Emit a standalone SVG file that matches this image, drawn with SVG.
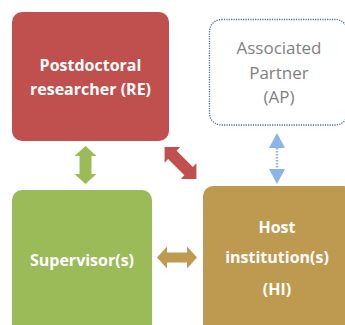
<svg xmlns="http://www.w3.org/2000/svg" width="345" height="325" viewBox="0 0 345 325">
  <style>
    .lbl { font-family: "Open Sans", "Liberation Sans", sans-serif; font-weight: bold; font-size: 16px; fill: #ffffff; text-anchor: middle; }
    .ap { font-family: "Open Sans", "Liberation Sans", sans-serif; font-size: 17px; fill: #7f7f7f; text-anchor: middle; }
  </style>
  <rect width="345" height="325" fill="#ffffff"/>
  <g id="connectors">
    <polygon fill="#9bbb59" points="85.5,146 96.5,156 91.5,156 91.5,174 96.5,174 85.5,184 74.5,174 79.5,174 79.5,156 74.5,156"/>
    <polygon fill="#be9a50" points="157,257.5 167,246.5 167,252.5 187,252.5 187,246.5 197,257.5 187,268.5 187,262.5 167,262.5 167,268.5"/>
    <polygon fill="#c0504d" transform="translate(180.5,163) rotate(45)" points="-22.5,0 -11.5,-11 -11.5,-6 11.5,-6 11.5,-11 22.5,0 11.5,11 11.5,6 -11.5,6 -11.5,11"/>
    <g fill="#8eb4e3">
      <polygon points="277,133 285,148 269,148"/>
      <polygon points="277,184 285,169 269,169"/>
      <line x1="277" y1="148" x2="277" y2="169" stroke="#8eb4e3" stroke-width="2.5" stroke-dasharray="1.5 1.5"/>
    </g>
  </g>
  <g id="re">
    <rect x="12" y="12" width="157" height="129" rx="10" fill="#c0504d"/>
    <text class="lbl" x="90.5" y="71">Postdoctoral</text>
    <text class="lbl" x="90.5" y="95">researcher (RE)</text>
  </g>
  <g id="ap">
    <rect x="209.5" y="19.5" width="138" height="105.5" rx="12" fill="none" stroke="#4a6a9c" stroke-width="1.3" stroke-dasharray="1.2 1.2"/>
    <text class="ap" x="279" y="54">Associated</text>
    <text class="ap" x="279" y="79">Partner</text>
    <text class="ap" x="279" y="103">(AP)</text>
  </g>
  <g id="supervisor">
    <rect x="12" y="190" width="140" height="145" rx="10" fill="#9bbb59"/>
    <text class="lbl" x="82" y="266">Supervisor(s)</text>
  </g>
  <g id="hi">
    <rect x="203" y="186" width="150" height="150" rx="10" fill="#be9a50"/>
    <text class="lbl" x="277" y="233">Host</text>
    <text class="lbl" x="277" y="263">institution(s)</text>
    <text class="lbl" x="277" y="295">(HI)</text>
  </g>
</svg>
